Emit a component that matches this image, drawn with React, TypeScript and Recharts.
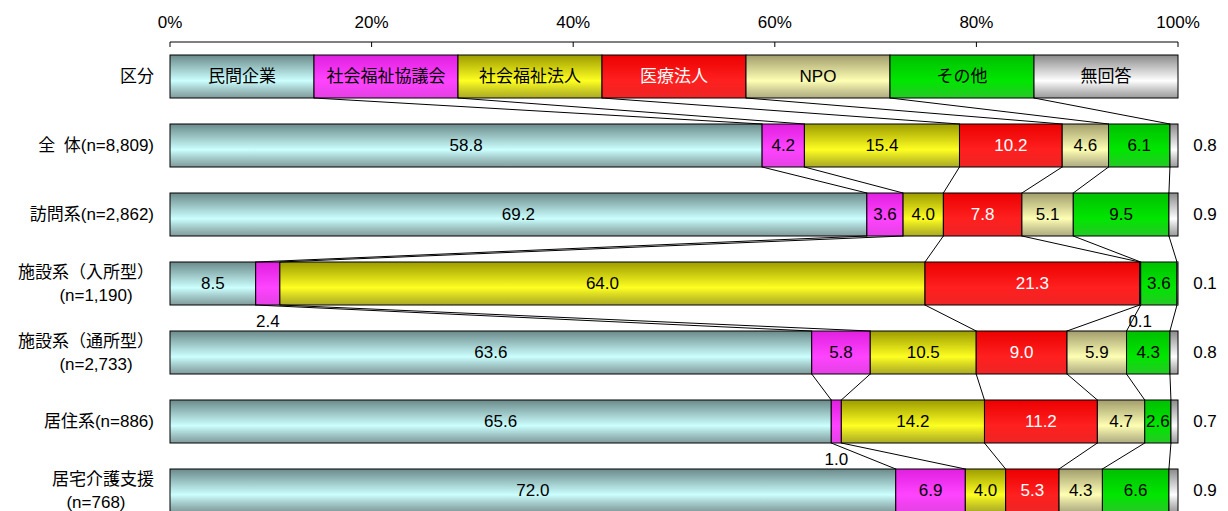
import React from "react";
import { BarChart, Bar, XAxis, YAxis, ReferenceLine } from "recharts";

// 運営主体の構成比（%）
const categories = ["民間企業", "社会福祉協議会", "社会福祉法人", "医療法人", "NPO", "その他", "無回答"];
const rowLabels = [
  "区分",
  "全\u2002体(n=8,809)",
  "訪問系(n=2,862)",
  "施設系（入所型）\n(n=1,190)",
  "施設系（通所型）\n(n=2,733)",
  "居住系(n=886)",
  "居宅介護支援\n(n=768)",
];
const headerShares = [1, 1, 1, 1, 1, 1, 1];
const zentai = [58.8, 4.2, 15.4, 10.2, 4.6, 6.1, 0.8];
const houmon = [69.2, 3.6, 4.0, 7.8, 5.1, 9.5, 0.9];
const nyusho = [8.5, 2.4, 64.0, 21.3, 0.1, 3.6, 0.1];
const tsusho = [63.6, 5.8, 10.5, 9.0, 5.9, 4.3, 0.8];
const kyoju = [65.6, 1.0, 14.2, 11.2, 4.7, 2.6, 0.7];
const kyotaku = [72.0, 6.9, 4.0, 5.3, 4.3, 6.6, 0.9];
const xTicks = [0, 0.2, 0.4, 0.6, 0.8, 1];

const rows = [headerShares, zentai, houmon, nyusho, tsusho, kyoju, kyotaku];

// gradient colours per series: [dark edge, light centre]
const gradients = [
  ["#6b8a8a", "#ccffff"],
  ["#e020e0", "#ff44ff"],
  ["#9c9c00", "#ffff22"],
  ["#ec0000", "#ff2020"],
  ["#a19d6c", "#ffffb4"],
  ["#00c000", "#00e600"],
  ["#8a8a8a", "#ffffff"],
];

const FONT = "'Liberation Sans', 'Noto Sans CJK JP', sans-serif";
const FS = 17;
const BAR = 43;

const data = rows.map((vals, i) => {
  const row: Record<string, any> = { name: rowLabels[i] };
  vals.forEach((v, k) => (row[`s${k}`] = v));
  return row;
});

// cumulative boundaries (normalised like the 100% stack)
const bounds = rows.map((vals) => {
  const total = vals.reduce((a, b) => a + b, 0);
  let acc = 0;
  return vals.slice(0, 6).map((v) => {
    acc += v;
    return acc / total;
  });
});

const seriesLines: { a: number; b: number; ya: string; yb: string }[] = [];
for (let r = 0; r < rows.length - 1; r++) {
  for (let k = 0; k < 6; k++) {
    seriesLines.push({ a: bounds[r][k], b: bounds[r + 1][k], ya: rowLabels[r], yb: rowLabels[r + 1] });
  }
}

function makeShape(k: number) {
  return (p: any) => {
    const { x, y, width, height } = p;
    const ri = rowLabels.indexOf(p.payload?.name);
    const color = k === 3 ? "#fff" : "#000";
    let label: React.ReactNode = null;
    if (ri === 0) {
      label = (
        <text x={x + width / 2} y={y + height / 2} textAnchor="middle" dominantBaseline="central"
          fontSize={FS} fontFamily={FONT} fill={color}>
          {categories[k]}
        </text>
      );
    } else if (ri > 0) {
      const v = rows[ri][k];
      let lx = x + width / 2;
      let ly = y + height / 2;
      let fill = color;
      if (k === 6) {
        lx = x + width + 27;
        fill = "#000";
      } else if (v < 2.5) {
        ly = y + height + 16;
        fill = "#000";
      }
      label = (
        <text x={lx} y={ly} textAnchor="middle" dominantBaseline="central"
          fontSize={FS} fontFamily={FONT} fill={fill}>
          {v.toFixed(1)}
        </text>
      );
    }
    return (
      <g>
        <rect x={x} y={y} width={width} height={height} fill={`url(#grad${k})`} stroke="#000" strokeWidth={1} />
        {label}
      </g>
    );
  };
}

const XTick = (props: any) => {
  const { x, y, payload } = props;
  return (
    <g>
      <line x1={x} y1={y} x2={x} y2={y + 5} stroke="#000" />
      <text x={x} y={y - 14} textAnchor="middle" fontSize={FS} fontFamily={FONT} fill="#000">
        {Math.round(payload.value * 100)}%
      </text>
    </g>
  );
};

const YTick = (props: any) => {
  const { x, y, payload } = props;
  const lines = String(payload.value).split("\n");
  if (lines.length === 1) {
    return (
      <text x={x - 16} y={y} textAnchor="end" dominantBaseline="central" fontSize={FS} fontFamily={FONT} fill="#000">
        {lines[0]}
      </text>
    );
  }
  return (
    <g>
      <text x={x - 16} y={y - 11.5} textAnchor="end" dominantBaseline="central" fontSize={FS} fontFamily={FONT} fill="#000">
        {lines[0]}
      </text>
      <text x={x - 74} y={y + 11.5} textAnchor="middle" dominantBaseline="central" fontSize={FS} fontFamily={FONT} fill="#000">
        {lines[1]}
      </text>
    </g>
  );
};

export default function App() {
  return (
    <div style={{ position: "fixed", left: 0, top: 0, width: 1228, height: 511, overflow: "hidden", background: "#fff" }}>
      <BarChart
        width={1228}
        height={530}
        data={data}
        layout="vertical"
        stackOffset="expand"
        barSize={BAR}
        margin={{ top: 0, right: 50, bottom: 5, left: 0 }}
      >
        <defs>
          {gradients.map(([dark, light], k) => (
            <linearGradient key={k} id={`grad${k}`} x1="0" y1="0" x2="0" y2="1">
              <stop offset="0%" stopColor={dark} />
              <stop offset="60%" stopColor={light} />
              <stop offset="100%" stopColor={dark} stopOpacity={0.85} />
            </linearGradient>
          ))}
        </defs>
        <XAxis
          type="number"
          orientation="top"
          domain={[0, 1]}
          ticks={xTicks}
          height={42}
          tickSize={0}
          tickMargin={0}
          tickLine={false}
          axisLine={{ stroke: "#000" }}
          tick={<XTick />}
        />
        <YAxis
          type="category"
          dataKey="name"
          width={170}
          interval={0}
          tickSize={0}
          tickMargin={0}
          tickLine={false}
          axisLine={false}
          tick={<YTick />}
        />
        {categories.map((c, k) => (
          <Bar key={c} dataKey={`s${k}`} name={c} stackId="a" shape={makeShape(k)} isAnimationActive={false} />
        ))}
        {seriesLines.map((s, i) => (
          <ReferenceLine
            key={i}
            ifOverflow="visible"
            segment={[{ x: s.a, y: s.ya }, { x: s.b, y: s.yb }]}
            shape={(p: any) => (
              <line x1={p.x1} y1={p.y1 + BAR / 2} x2={p.x2} y2={p.y2 - BAR / 2} stroke="#000" strokeWidth={1} />
            )}
          />
        ))}
      </BarChart>
    </div>
  );
}
